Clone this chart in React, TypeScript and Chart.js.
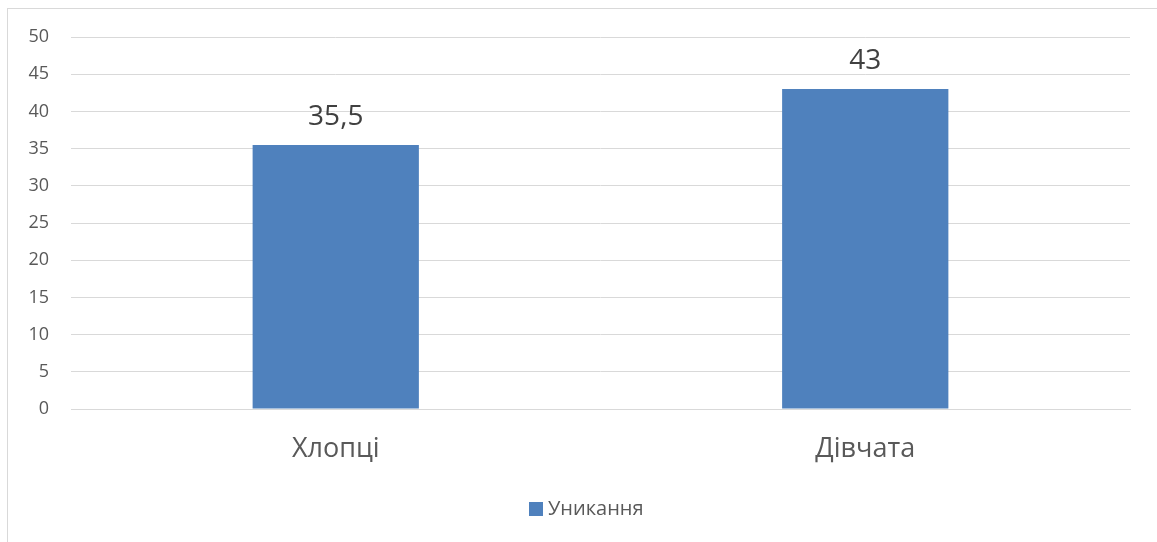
import React, { useEffect, useRef } from "react";
import { Chart, registerables } from "chart.js";

Chart.register(...registerables);

const categories = ["Хлопці", "Дівчата"];
const seriesName = "Уникання";
const seriesValues = [35.5, 43];
const yMin = 0;
const yMax = 50;
const yStep = 5;

const BAR_COLOR = "#4F81BD";
const GRID_COLOR = "#D9D9D9";
const TEXT_COLOR = "#595959";
const FONT = "'Open Sans', 'DejaVu Sans', sans-serif";

const formatValue = (v: number) => String(v).replace(".", ",");

const dataLabelPlugin = {
  id: "dataLabels",
  afterDatasetsDraw(chart: any) {
    const ctx = chart.ctx;
    const meta = chart.getDatasetMeta(0);
    ctx.save();
    ctx.fillStyle = "#404040";
    ctx.font = `28px ${FONT}`;
    ctx.textAlign = "center";
    ctx.textBaseline = "middle";
    meta.data.forEach((bar: any, i: number) => {
      ctx.fillText(formatValue(seriesValues[i]), bar.x, bar.y - 28);
    });
    ctx.restore();
  },
};

const legendPlugin = {
  id: "customLegend",
  afterDraw(chart: any) {
    const ctx = chart.ctx;
    ctx.save();
    ctx.font = `20px ${FONT}`;
    const box = 14;
    const x0 = 529;
    const cy = 509;
    ctx.fillStyle = BAR_COLOR;
    ctx.fillRect(x0, cy - box / 2, box, box);
    ctx.fillStyle = TEXT_COLOR;
    ctx.textAlign = "left";
    ctx.textBaseline = "middle";
    ctx.fillText(seriesName, x0 + box + 5, cy);
    ctx.restore();
  },
};

export default function App() {
  const canvasRef = useRef<HTMLCanvasElement | null>(null);

  useEffect(() => {
    if (!canvasRef.current) return;
    const chart = new Chart(canvasRef.current, {
      type: "bar",
      data: {
        labels: categories,
        datasets: [
          {
            label: seriesName,
            data: seriesValues,
            backgroundColor: BAR_COLOR,
            barPercentage: 1,
            categoryPercentage: 0.314,
          },
        ],
      },
      options: {
        animation: false,
        responsive: false,
        maintainAspectRatio: false,
        layout: { padding: { left: 0, top: 37, right: 27, bottom: 0 } },
        plugins: {
          legend: { display: false },
          tooltip: { enabled: false },
        },
        scales: {
          x: {
            grid: { display: false, drawTicks: false },
            border: { display: true, color: GRID_COLOR, width: 1 },
            ticks: {
              color: TEXT_COLOR,
              font: { family: FONT, size: 27 },
              padding: 24,
            },
            afterFit: (scale: any) => {
              scale.height = 133;
            },
          },
          y: {
            min: yMin,
            max: yMax,
            ticks: {
              stepSize: yStep,
              color: TEXT_COLOR,
              font: { family: FONT, size: 18 },
              padding: 22,
            },
            grid: { color: GRID_COLOR, drawTicks: false, lineWidth: 1 },
            border: { display: false },
            afterFit: (scale: any) => {
              scale.width = 71;
            },
          },
        },
      },
      plugins: [dataLabelPlugin, legendPlugin],
    });
    return () => chart.destroy();
  }, []);

  return (
    <div
      style={{
        position: "fixed",
        left: 0,
        top: 0,
        width: 1157,
        height: 542,
        background: "#fff",
      }}
    >
      <div
        style={{
          position: "absolute",
          left: 7,
          top: 8,
          width: 1160,
          height: 540,
          border: "1px solid #D9D9D9",
          boxSizing: "border-box",
        }}
      />
      <canvas
        ref={canvasRef}
        width={1157}
        height={542}
        style={{ position: "absolute", left: 0, top: 0 }}
      />
    </div>
  );
}
